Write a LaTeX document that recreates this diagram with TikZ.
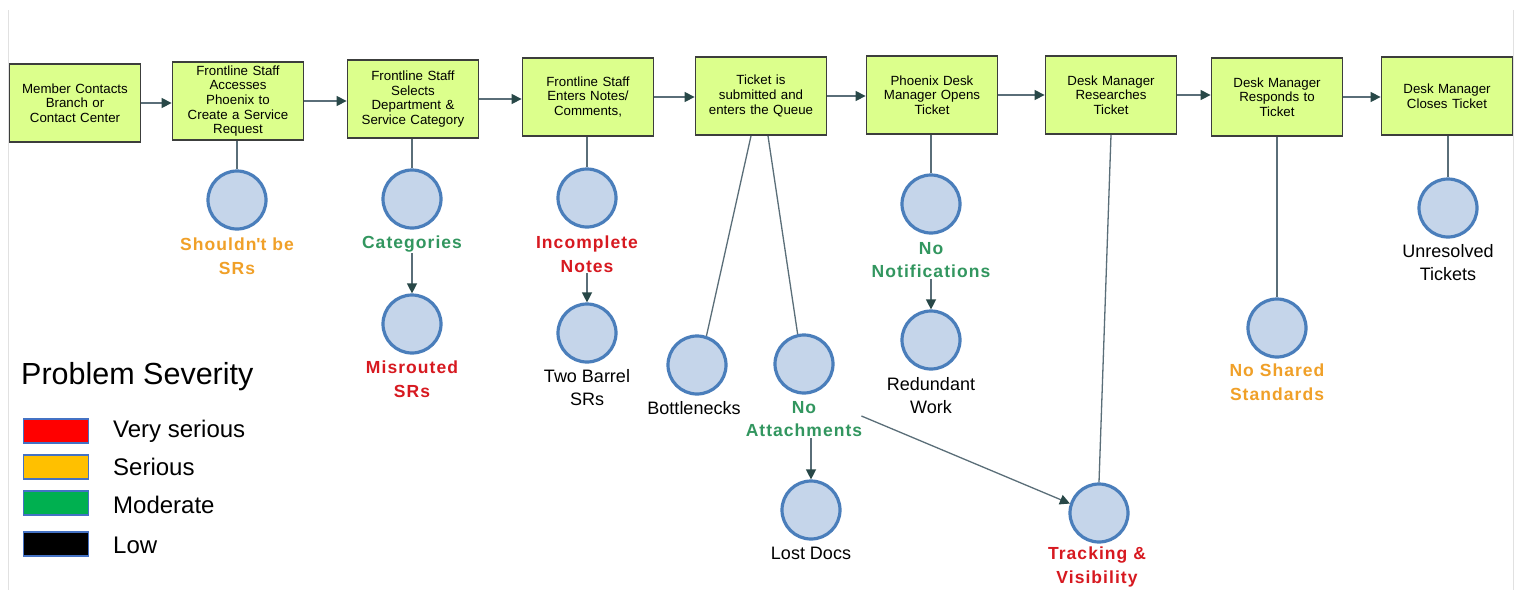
\documentclass[tikz,border=0pt]{standalone}
\usepackage{fontspec}
\setmainfont{Liberation Sans}
\newfontfamily\spacedbold[LetterSpace=6,BoldFont={Liberation Sans Bold}]{Liberation Sans Bold}
\usetikzlibrary{arrows.meta,calc}
\definecolor{boxfill}{RGB}{220,255,140}
\definecolor{boxdraw}{RGB}{60,62,60}
\definecolor{circfill}{RGB}{197,213,234}
\definecolor{circdraw}{RGB}{74,126,187}
\definecolor{linec}{RGB}{90,110,120}
\definecolor{tipc}{RGB}{40,72,72}
\definecolor{lred}{RGB}{215,25,32}
\definecolor{lorange}{RGB}{240,160,40}
\definecolor{lgreen}{RGB}{50,150,95}
\definecolor{sred}{RGB}{255,0,0}
\definecolor{sorange}{RGB}{255,192,0}
\definecolor{sgreen}{RGB}{0,176,80}
\definecolor{sborder}{RGB}{68,114,196}
\definecolor{framec}{RGB}{225,225,225}
\tikzset{
  stepbox/.style={draw=boxdraw, line width=1.8pt, fill=boxfill, minimum width=131pt, minimum height=78pt,
    inner sep=0pt, text width=128pt, align=center, font=\fontsize{13.3}{14.6}\selectfont},
  prob/.style={circle, draw=circdraw, line width=3.2pt, fill=circfill, minimum size=58pt, inner sep=0pt},
  lab/.style={align=center, inner sep=1pt, font=\fontsize{18}{23}\selectfont},
  blab/.style={align=center, inner sep=1pt, font=\spacedbold\fontsize{17.5}{23.5}\selectfont},
  conn/.style={draw=linec, line width=1.3pt},
  arr/.style={draw=linec, line width=1.3pt, -{Triangle[length=10pt,width=10pt,color=tipc]}},
  swatch/.style={draw=sborder, line width=1.5pt, minimum width=65pt, minimum height=24pt, inner sep=0pt},
  legtxt/.style={anchor=west, inner sep=0pt, font=\fontsize{24}{26}\selectfont},
}
\begin{document}
\begin{tikzpicture}[x=1pt,y=-1pt]
\useasboundingbox (0,0) rectangle (1516,590);
\fill[white] (0,0) rectangle (1516,590);
\coordinate (fl1) at (8,10); \coordinate (fl2) at (8,590);
\coordinate (fr1) at (1513,10); \coordinate (fr2) at (1513,590);
\draw[framec, line width=1pt] (fl1) -- (fl2);
\draw[framec, line width=1pt] (fr1) -- (fr2);

% process boxes
\node[stepbox] (b1) at (75,103) {Member Contacts\\Branch or\\Contact Center};
\node[stepbox] (b2) at (238,101) {Frontline Staff\\Accesses\\Phoenix to\\Create a Service\\Request};
\node[stepbox] (b3) at (413,99) {Frontline Staff\\Selects\\Department \&\\Service Category};
\node[stepbox] (b4) at (588,97) {Frontline Staff\\Enters Notes/\\Comments,\\[6pt]};
\node[stepbox] (b5) at (761,96) {Ticket is\\submitted and\\enters the Queue};
\node[stepbox] (b6) at (932,95) {Phoenix Desk\\Manager Opens\\Ticket\\[8pt]};
\node[stepbox] (b7) at (1111,95) {Desk Manager\\Researches\\Ticket};
\node[stepbox] (b8) at (1277,97) {Desk Manager\\Responds to\\Ticket};
\node[stepbox] (b9) at (1447,96) {Desk Manager\\Closes Ticket\\[8pt]};

\foreach \a/\b in {b1/b2,b2/b3,b3/b4,b4/b5,b5/b6,b6/b7,b7/b8,b8/b9}
  \draw[arr] (\a.east) -- (\b.west |- \a.east);

% problem circles
\node[prob] (c1) at (237,200) {};
\node[prob] (c2) at (412,199) {};
\node[prob] (c2b) at (412,324) {};
\node[prob] (c3) at (587,198) {};
\node[prob] (c3b) at (587,333) {};
\node[prob] (c4) at (697,365) {};
\node[prob] (c5) at (804,364) {};
\node[prob] (c5b) at (811,510) {};
\node[prob] (c6) at (931,204) {};
\node[prob] (c6b) at (931,340) {};
\node[prob] (c7) at (1099,513) {};
\node[prob] (c8) at (1277,328) {};
\node[prob] (c9) at (1448,208) {};

% labels
\node[blab, text=lorange] (l1) at (237,256) {Shouldn\textquotesingle t be\\SRs};
\node[blab, text=lgreen] (l2) at (412,244) {Categories};
\node[blab, text=lred] (l2b) at (412,379) {Misrouted\\SRs};
\node[blab, text=lred] (l3) at (587,254) {Incomplete\\Notes};
\node[lab] (l3b) at (587,388) {Two Barrel\\SRs};
\node[lab] (l4) at (694,408) {Bottlenecks};
\node[blab, text=lgreen] (l5) at (804,419) {No\\Attachments};
\node[lab] (l5b) at (811,553) {Lost Docs};
\node[blab, text=lgreen] (l6) at (931,260) {No\\Notifications};
\node[lab] (l6b) at (931,396) {Redundant\\Work};
\node[blab, text=lred] (l7) at (1097,567) {Tracking \&\\Visibility};
\node[blab, text=lorange] (l8) at (1277,382) {No Shared\\Standards};
\node[lab] (l9) at (1448,263) {Unresolved\\Tickets};

% connectors from boxes
\draw[conn] (b2.south -| c1) -- (c1.north);
\draw[conn] (b3.south -| c2) -- (c2.north);
\draw[conn] (b4.south -| c3) -- (c3.north);
\draw[conn] ($(b5.south)+(-10,0)$) -- (c4.72);
\draw[conn] ($(b5.south)+(7,0)$) -- (c5.102);
\draw[conn] (b6.south -| c6) -- (c6.north);
\draw[conn] (b7.south) -- (c7.north);
\draw[conn] (b8.south) -- (c8.north);
\draw[conn] (b9.south -| c9) -- (c9.north);

% arrows from labels
\draw[arr] (l2.south) -- (c2b.north);
\draw[arr] (l3.south) -- (c3b.north);
\draw[arr] (l6.south) -- (c6b.north);
\draw[arr] ($(l5.south)+(7,0)$) -- (c5b.north);
\draw[arr] ($(l5.east)+(-2,-3)$) -- (c7.162);

% legend
\node[anchor=west, inner sep=0pt, font=\fontsize{30.5}{34}\selectfont] (lt) at (21,377) {Problem Severity};
\node[swatch, fill=sred] (s1) at (56,431) {};
\node[swatch, fill=sorange] (s2) at (56,467) {};
\node[swatch, fill=sgreen] (s3) at (56,503) {};
\node[swatch, fill=black] (s4) at (56,544) {};
\node[legtxt] (t1) at (113,431) {Very serious};
\node[legtxt] (t2) at (113,467) {Serious};
\node[legtxt] (t3) at (113,505) {Moderate};
\node[legtxt] (t4) at (113,545) {Low};
\end{tikzpicture}
\end{document}
